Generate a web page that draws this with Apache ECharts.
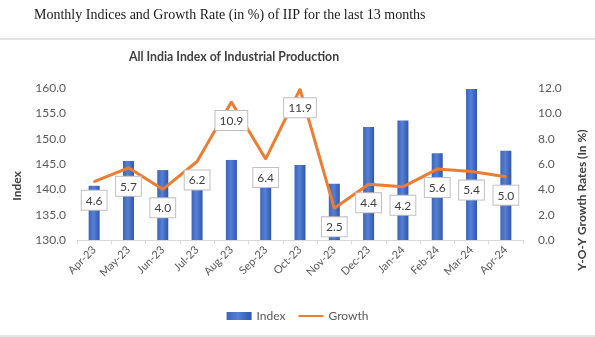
<!DOCTYPE html>
<html>
<head>
<meta charset="utf-8">
<script src="https://cdn.jsdelivr.net/npm/echarts@6/dist/echarts.min.js"></script>
<style>
  html, body { margin: 0; padding: 0; background: #fff; }
  #chart { width: 595px; height: 337px; }
</style>
</head>
<body>
<div id="chart"></div>
<script>
// Months shown on the category axis
const months = ['Apr-23', 'May-23', 'Jun-23', 'Jul-23', 'Aug-23', 'Sep-23', 'Oct-23',
                'Nov-23', 'Dec-23', 'Jan-24', 'Feb-24', 'Mar-24', 'Apr-24'];
// All India IIP (index values)
const indexValues = [140.7, 145.6, 143.8, 142.6, 145.8, 141.8, 144.8,
                     141.1, 152.3, 153.6, 147.1, 159.8, 147.6];
// Year-on-year growth (%)
const growthValues = [4.6, 5.7, 4.0, 6.2, 10.9, 6.4, 11.9, 2.5, 4.4, 4.2, 5.6, 5.4, 5.0];
// Axis ranges
const indexAxis = { min: 130, max: 160, step: 5 };
const growthAxis = { min: 0, max: 12, step: 2 };

const chart = echarts.init(document.getElementById('chart'), null, { renderer: 'canvas' });
const grey = '#595959';
const uiFont = 'Lato, "Open Sans", sans-serif';

chart.setOption({
  animation: false,
  backgroundColor: '#fff',
  textStyle: { fontFamily: uiFont },
  graphic: [
    { type: 'text', left: 34, top: 8,
      style: { text: 'Monthly Indices and Growth Rate (in %) of IIP for the last 13 months',
               font: '14px "Liberation Serif", "Times New Roman", serif', fill: '#1a1a1a' } },
    { type: 'rect', shape: { x: 0, y: 38, width: 595, height: 2 }, style: { fill: '#e4e4e4' } },
    { type: 'rect', shape: { x: 0, y: 335, width: 595, height: 2 }, style: { fill: '#e4e4e4' } },
    { type: 'text', x: 234, y: 57,
      style: { text: 'All India Index of Industrial Production', textAlign: 'center', textVerticalAlign: 'middle',
               font: 'bold 12.3px ' + uiFont, fill: '#404040' } },
    { type: 'text', x: 17, y: 186, rotation: Math.PI / 2,
      style: { text: 'Index', textAlign: 'center', textVerticalAlign: 'middle',
               font: 'bold 12px ' + uiFont, fill: '#404040' } },
    { type: 'text', x: 582, y: 200, rotation: Math.PI / 2,
      style: { text: 'Y-O-Y Growth Rates (In %)', textAlign: 'center', textVerticalAlign: 'middle',
               font: 'bold 12px ' + uiFont, fill: '#404040' } }
  ],
  legend: {
    bottom: 10,
    left: 'center',
    itemWidth: 25,
    itemHeight: 8,
    itemGap: 12,
    textStyle: { color: grey, fontSize: 12, fontFamily: uiFont },
    data: [
      { name: 'Index', icon: 'rect' },
      { name: 'Growth', itemStyle: { opacity: 0 } }
    ]
  },
  grid: { left: 77, right: 72, top: 88, bottom: 97, containLabel: false },
  xAxis: {
    type: 'category',
    data: months,
    boundaryGap: true,
    axisLine: { lineStyle: { color: '#d9d9d9', width: 1 } },
    axisTick: { show: true, alignWithLabel: false, length: 4, lineStyle: { color: '#d9d9d9' } },
    axisLabel: { rotate: 45, interval: 0, color: grey, fontSize: 11, margin: 8, fontFamily: uiFont }
  },
  yAxis: [
    {
      type: 'value',
      min: indexAxis.min, max: indexAxis.max, interval: indexAxis.step,
      axisLine: { show: false }, axisTick: { show: false }, splitLine: { show: false },
      axisLabel: { color: grey, fontSize: 12, margin: 11, fontFamily: uiFont,
                   formatter: v => v.toFixed(1) }
    },
    {
      type: 'value',
      min: growthAxis.min, max: growthAxis.max, interval: growthAxis.step,
      axisLine: { show: false }, axisTick: { show: false }, splitLine: { show: false },
      axisLabel: { color: grey, fontSize: 12, margin: 15, fontFamily: uiFont,
                   formatter: v => v.toFixed(1) }
    }
  ],
  series: [
    {
      name: 'Index',
      type: 'bar',
      yAxisIndex: 0,
      barWidth: 11,
      data: indexValues,
      itemStyle: {
        color: new echarts.graphic.LinearGradient(0, 0, 1, 0, [
          { offset: 0, color: '#3b64bd' },
          { offset: 0.45, color: '#5680d2' },
          { offset: 1, color: '#2d56ae' }
        ])
      }
    },
    {
      name: 'Growth',
      type: 'line',
      yAxisIndex: 1,
      data: growthValues,
      color: '#ED7D31',
      symbol: 'circle',
      symbolSize: 2,
      lineStyle: { color: '#ED7D31', width: 3 },
      itemStyle: { color: '#ED7D31' },
      z: 3,
      label: {
        show: true,
        position: 'bottom',
        distance: 8,
        formatter: p => p.value.toFixed(1),
        color: '#404040',
        fontSize: 12,
        fontFamily: uiFont,
        backgroundColor: '#fff',
        borderColor: '#bfbfbf',
        borderWidth: 1,
        padding: [4, 4, 3, 4]
      }
    }
  ]
});
</script>
</body>
</html>
